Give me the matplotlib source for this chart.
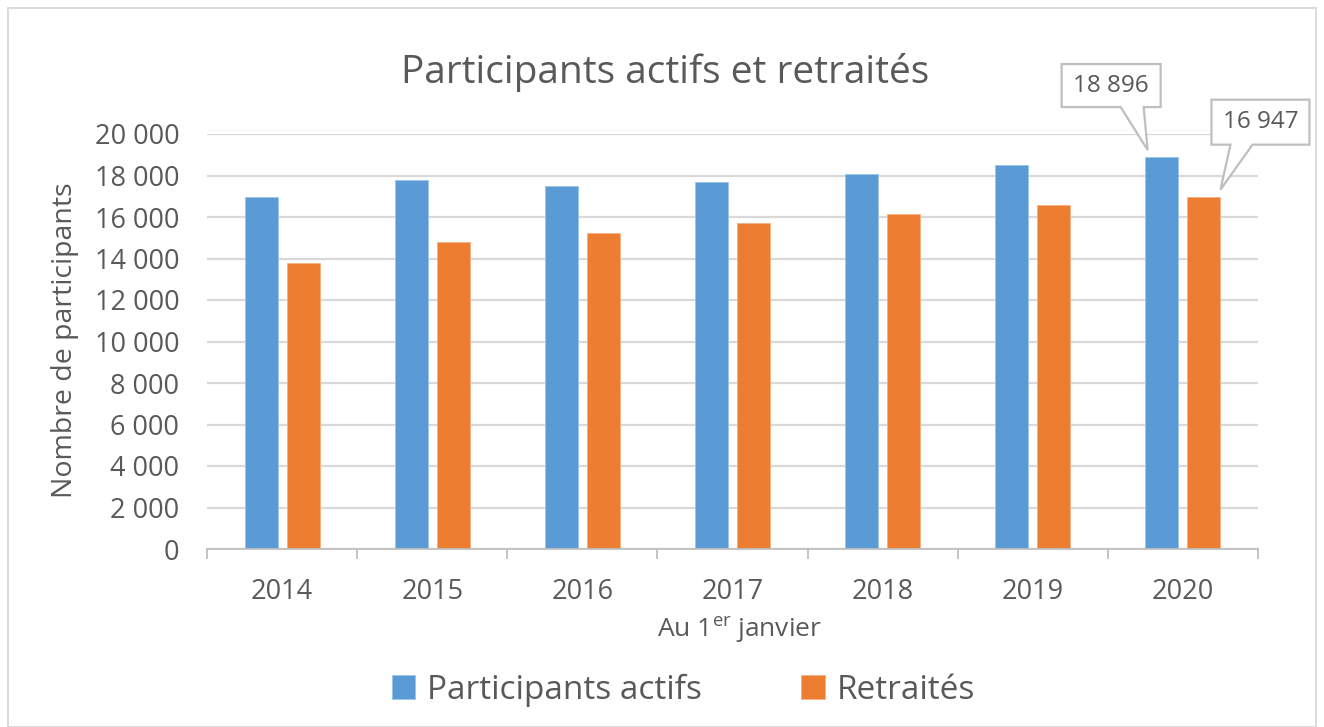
import matplotlib
matplotlib.use("Agg")
import matplotlib.pyplot as plt
import numpy as np
from matplotlib.patches import Polygon, Rectangle
from matplotlib.ticker import FuncFormatter, FixedLocator

years = ["2014", "2015", "2016", "2017", "2018", "2019", "2020"]
actifs = [16950, 17760, 17470, 17680, 18050, 18500, 18896]
retraites = [13760, 14810, 15240, 15690, 16130, 16580, 16947]
series_names = ["Participants actifs", "Retraités"]
title = "Participants actifs et retraités"
y_ticks = [0, 2000, 4000, 6000, 8000, 10000, 12000, 14000, 16000, 18000, 20000]

BLUE = "#5B9BD5"
ORANGE = "#ED7D31"
TXT = "#595959"
GRID = "#D9D9D9"

plt.rcParams['font.family'] = ['Open Sans', 'DejaVu Sans']
plt.rcParams['mathtext.fontset'] = 'custom'
plt.rcParams['mathtext.rm'] = 'Open Sans'
plt.rcParams['mathtext.it'] = 'Open Sans'

W, H, DPI = 13.24, 7.27, 100
fig = plt.figure(figsize=(W, H), dpi=DPI)
fig.patch.set_facecolor("white")
fig.add_artist(Rectangle((8 / 1324, 0.0), 1308 / 1324, 719 / 727, transform=fig.transFigure,
                         fill=False, edgecolor=GRID, linewidth=1.3))

ax = fig.add_axes([207 / 1324, 178 / 727, 1051 / 1324, 415 / 727])
x = np.arange(len(years))
bw = 0.22
off = 0.14
b1 = ax.bar(x - off, actifs, bw, color=BLUE, label=series_names[0], zorder=3,
            edgecolor="#9cc3e6", linewidth=0.6)
b2 = ax.bar(x + off, retraites, bw, color=ORANGE, label=series_names[1], zorder=3,
            edgecolor="#f4b183", linewidth=0.6)

ax.set_xlim(-0.5, len(years) - 0.5)
ax.set_ylim(0, 20000)
ax.yaxis.set_major_locator(FixedLocator(y_ticks))
ax.yaxis.set_major_formatter(FuncFormatter(lambda v, p: f"{int(v):,}".replace(",", " ")))
ax.grid(axis="y", color=GRID, linewidth=1.6, zorder=0)
for s in ["top", "right", "left"]:
    ax.spines[s].set_visible(False)
ax.spines["bottom"].set_color("#BFBFBF")
ax.spines["bottom"].set_linewidth(1.3)
ax.spines["bottom"].set_zorder(4)

ax.set_xticks(x)
ax.set_xticklabels(years)
ax.set_xticks(np.arange(-0.5, len(years)), minor=True)
ax.tick_params(axis="x", which="major", length=0, pad=21, labelsize=19.5, labelcolor=TXT)
ax.tick_params(axis="x", which="minor", length=7, width=1.3, color="#BFBFBF", direction="out")
ax.tick_params(axis="y", which="major", length=0, pad=20, labelsize=19.5, labelcolor=TXT)

fig.text(740 / 1324, 1 - 630 / 727, "Au 1$^{\\mathrm{er}}$ janvier", fontsize=19,
         color=TXT, ha="center", va="center")
fig.text(65 / 1324, 1 - 340 / 727, "Nombre de participants", fontsize=20.5, color=TXT,
         ha="center", va="center", rotation=90)
fig.text(0.502, 1 - 72 / 727, title, fontsize=28, color=TXT, ha="center", va="center")

leg = fig.legend(handles=[b1, b2], labels=series_names, loc="center",
                 bbox_to_anchor=(0.516, 1 - 690 / 727), ncol=2, frameon=False,
                 fontsize=24, labelcolor=TXT, handlelength=0.7, handleheight=0.7,
                 handletextpad=0.35, columnspacing=3.0)

# callouts for the 2020 values
def callout(xv, yv, text, box, wedge):
    tx, ty = ax.transData.transform((xv, yv))
    l, r, t, b = box
    w1, w2 = wedge
    pts = [(tx, ty), (tx + w2, ty + b), (tx + r, ty + b), (tx + r, ty + t),
           (tx + l, ty + t), (tx + l, ty + b), (tx + w1, ty + b)]
    poly = Polygon(pts, closed=True, transform=None, facecolor="white",
                   edgecolor="#BFBFBF", linewidth=1.6, zorder=10)
    fig.add_artist(poly)
    fig.text((tx + (l + r) / 2) / (W * DPI), (ty + (t + b) / 2) / (H * DPI), text,
             ha="center", va="center", fontsize=17.5, color=TXT, zorder=11)

i = len(years) - 1
fmt = lambda v: f"{v:,}".replace(",", " ")
callout(x[i] - off - bw / 2 + 0.015, actifs[i] + 330, fmt(actifs[i]),
        (-86, 13, 86, 43), (-27, -4))
callout(x[i] + off + bw / 2, retraites[i] + 370, fmt(retraites[i]),
        (-9, 89, 90, 45), (10, 32))

fig.savefig("out.png", dpi=DPI, facecolor="white")
